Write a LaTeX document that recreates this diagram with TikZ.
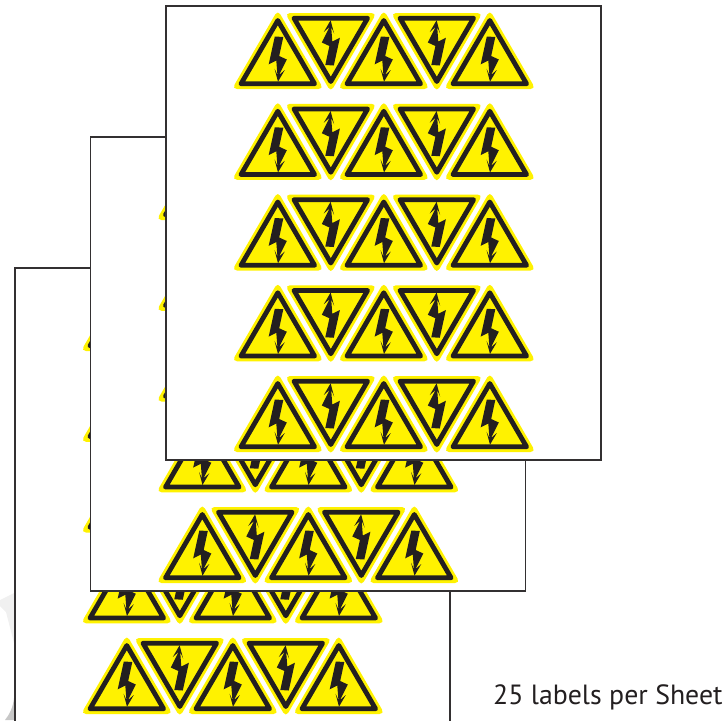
\documentclass[tikz,border=0pt]{standalone}
\usepackage{fontspec}
\setmainfont{PT Sans}
\definecolor{signyellow}{HTML}{FFF200}
\definecolor{signblack}{HTML}{231F20}
\definecolor{sheetline}{HTML}{333031}
\tikzset{
  sheetbox/.style={draw=sheetline,line width=1.6pt,fill=white},
  signback/.style={fill=signyellow,rounded corners=5pt},
  signedge/.style={draw=signblack,line width=4.8pt,line join=round},
  signbolt/.style={fill=signblack},
  caption/.style={anchor=base west,inner sep=0pt,text=signblack,font=\fontsize{27.8pt}{30pt}\selectfont}
}
\newcommand{\hazardsign}{%
  \path[signback] (0,-41) -- (45.8,38) -- (-45.8,38) -- cycle;
  \path[signedge] (0,-30.5) -- (36.8,32.8) -- (-36.8,32.8) -- cycle;
  \path[signbolt] (-3,-14.5) -- (5.5,-14) -- (1.4,5) -- (9,8.5) -- (1.3,24) -- (7,19) -- (0.2,30.7)
     -- (-3.3,17.5) -- (-0.4,24) -- (-1.5,9.5) -- (-9.1,13.3) -- cycle;
}
\newcommand{\labelsheet}[2]{%
  \begin{scope}[shift={(#1,#2)}]
    \path[sheetbox] (166,6) rectangle (601,460);
    \foreach \rowy in {51,141.75,232.5,323.25,414}{
      \foreach \signx in {277.8,383.8,489.8}{
        \begin{scope}[shift={(\signx,\rowy)}]\hazardsign\end{scope}
      }
      \foreach \signx in {330.8,436.8}{
        \begin{scope}[shift={(\signx,\rowy)},rotate=180]\hazardsign\end{scope}
      }
    }
  \end{scope}
}
\begin{document}
\begin{tikzpicture}[x=1pt,y=-1pt]
  \useasboundingbox (0,0) rectangle (728,720);
  \path[fill=black!6] (0,600) -- (14,593) -- (14,643) -- (6,612) -- (0,606) -- cycle;
  \path[fill=black!22] (14,698) .. controls (13,708) and (9,715) .. (5,720) -- (14,720) -- cycle;
  \clip (0,0) rectangle (728,720);
  \labelsheet{-151}{262}
  \labelsheet{-75.5}{131}
  \labelsheet{0}{0}
  \node[caption] (sheetcount) at (493,704) {25 labels per Sheet};
\end{tikzpicture}
\end{document}
